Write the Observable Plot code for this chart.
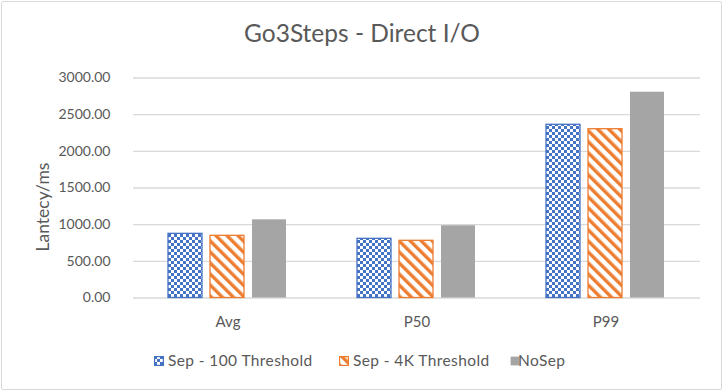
<!DOCTYPE html>
<html><head><meta charset="utf-8">
<script src="https://cdn.jsdelivr.net/npm/d3@7"></script>
<script src="https://cdn.jsdelivr.net/npm/@observablehq/plot@0.6"></script>
<style>
body{margin:0;background:#fff;}
#wrap{position:relative;width:724px;height:392px;font-family:Lato,sans-serif;color:#595959;overflow:hidden;background:#fff}
#border{position:absolute;left:1px;top:1px;width:719px;height:387px;border:1.5px solid #d9d9d9;border-radius:2px;pointer-events:none}
#chart{position:absolute;left:0;top:0}
#title{position:absolute;top:21px;left:0;width:724px;text-align:center;font-size:24.5px;line-height:24.5px}
#ylabel{position:absolute;left:42px;top:207px;transform:translate(-50%,-50%) rotate(-90deg);font-size:17.5px;white-space:nowrap}
.legsw{position:absolute;top:355.5px}
.legtx{position:absolute;top:351px;font-size:15.5px;line-height:18px;letter-spacing:0.4px;white-space:nowrap}
</style></head>
<body>
<svg width="0" height="0" style="position:absolute">
  <defs>
    <pattern id="chk" width="6" height="6" patternUnits="userSpaceOnUse">
      <rect width="6" height="6" fill="#ffffff"/>
      <rect x="0" y="0" width="3" height="3" fill="#4472C4"/>
      <rect x="3" y="3" width="3" height="3" fill="#4472C4"/>
    </pattern>
    <pattern id="stripe" width="7.8" height="7.8" patternUnits="userSpaceOnUse" patternTransform="rotate(-45)">
      <rect width="7.8" height="7.8" fill="#ffffff"/>
      <rect x="0" y="0" width="3.4" height="7.8" fill="#ED7D31"/>
    </pattern>
  </defs>
</svg>
<div id="wrap">
  <div id="chart"></div>
  <div id="title">Go3Steps - Direct I/O</div>
  <div id="ylabel">Lantecy/ms</div>
  <div id="legend"></div>
  <div id="border"></div>
</div>
<script>
const categories = ["Avg", "P50", "P99"];
const seriesNames = ["Sep - 100 Threshold", "Sep - 4K Threshold", "NoSep"];
const sep100 = [875, 807, 2362];
const sep4k = [848, 780, 2302];
const noSep = [1066, 985, 2806];
const yTicks = [0, 500, 1000, 1500, 2000, 2500, 3000];

const seriesValues = [sep100, sep4k, noSep];
const seriesFill = ["url(#chk)", "url(#stripe)", "#A5A5A5"];
const seriesStroke = ["#4472C4", "#ED7D31", "none"];

const rows = seriesNames.map((s, k) =>
  categories.map((c, i) => ({cat: c, series: s, value: seriesValues[k][i]})));

const chart = Plot.plot({
  width: 724,
  height: 392,
  marginTop: 77.5,
  marginBottom: 94.5,
  marginLeft: 133,
  marginRight: 24,
  style: {fontFamily: "Lato, sans-serif", fontSize: "14px", color: "#595959", background: "transparent"},
  fx: {domain: categories, padding: 0, label: null},
  x: {domain: seriesNames, axis: null, paddingInner: 0.19, paddingOuter: 0.845},
  y: {domain: [0, 3000], label: null},
  marks: [
    Plot.gridY(yTicks, {stroke: "#d9d9d9", strokeOpacity: 1, strokeWidth: 1.3}),
    ...rows.map((r, k) => Plot.barY(r, {
      fx: "cat", x: "series", y: "value",
      fill: seriesFill[k], stroke: seriesStroke[k], strokeWidth: 1.3
    })),
    Plot.axisY(yTicks, {tickFormat: d => d.toFixed(2), tickSize: 0, tickPadding: 23, fill: "#595959", label: null}),
    Plot.axisFx({anchor: "bottom", tickSize: 0, tickPadding: 18.5, fill: "#595959", fontSize: 15, label: null})
  ]
});
document.getElementById("chart").appendChild(chart);

// legend
const legSwX = [154, 339, 510];
const legTxX = [168, 353, 518];
const legend = document.getElementById("legend");
seriesNames.forEach((s, k) => {
  const sw = document.createElement("div");
  sw.className = "legsw";
  sw.style.left = legSwX[k] + "px";
  sw.innerHTML = `<svg width="10" height="10" style="display:block"><rect x="0.6" y="0.6" width="8.8" height="8.8" fill="${seriesFill[k]}" stroke="${seriesStroke[k]}" stroke-width="1.2"/></svg>`;
  legend.appendChild(sw);
  const tx = document.createElement("div");
  tx.className = "legtx";
  tx.style.left = legTxX[k] + "px";
  tx.textContent = s;
  legend.appendChild(tx);
});
</script>
</body></html>
